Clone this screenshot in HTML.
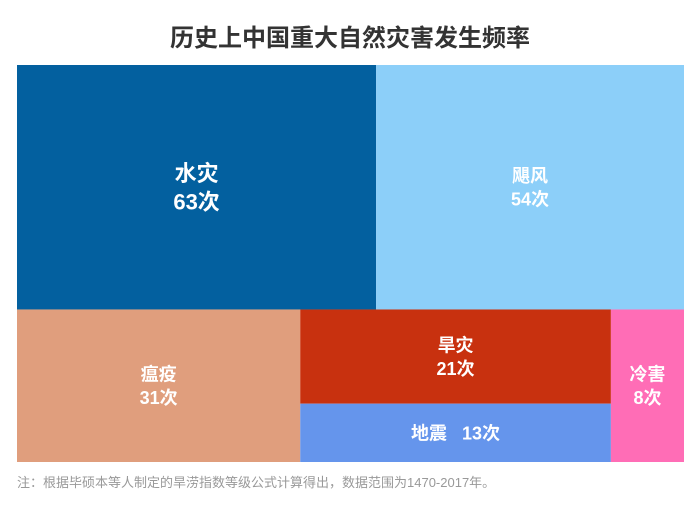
<!DOCTYPE html>
<html><head><meta charset="utf-8">
<style>
body{margin:0;width:700px;height:506px;background:#fff;font-family:"Liberation Sans","Noto Sans CJK SC",sans-serif;overflow:hidden}
#title{position:absolute;left:0;top:18px;width:700px;text-align:center;font-size:24px;font-weight:bold;color:#333}
#note{position:absolute;left:17px;top:472px;font-size:13px;color:#999}
svg{position:absolute;left:0;top:0}
svg text{white-space:pre}
</style></head><body>
<div id="title">历史上中国重大自然灾害发生频率</div>
<svg id="chart" width="700" height="506"></svg>
<div id="note">注：根据毕硕本等人制定的旱涝指数等级公式计算得出，数据范围为1470-2017年。</div>
<script>
const categories=["水灾","飓风","瘟疫","旱灾","地震","冷害"];
const counts=[63,54,31,21,13,8];
const colors=["#03609f","#8ccff9","#e09e7d","#c8310f","#6595ec","#ff6db6"];
const X0=17,Y0=65,W=667,H=397;
const svg=document.getElementById('chart');
const NS="http://www.w3.org/2000/svg";
const total=counts.reduce((a,b)=>a+b,0);
function rect(i,x,y,w,h,inline,fs){
  const r=document.createElementNS(NS,'rect');
  r.setAttribute('x',x);r.setAttribute('y',y);r.setAttribute('width',w);r.setAttribute('height',h);
  r.setAttribute('fill',colors[i]);
  
  
  svg.appendChild(r);
  const cx=x+w/2,cy=y+h/2;
  const lines=inline?[categories[i]+'   '+counts[i]+'次']:[categories[i],counts[i]+'次'];
  lines.forEach((t,k)=>{
    const tx=document.createElementNS(NS,'text');
    tx.setAttribute('x',cx);
    tx.setAttribute('y',cy+(k-(lines.length-1)/2)*fs*1.3+fs*0.36);
    tx.setAttribute('text-anchor','middle');tx.setAttribute('fill','#fff');
    tx.setAttribute('font-size',fs);tx.setAttribute('font-weight','bold');
    tx.textContent=t;
    
    
    svg.appendChild(tx);
  });
}
const topSum=counts[0]+counts[1];
const hTop=H*topSum/total;
const w0=W*counts[0]/topSum;
rect(0,X0,Y0,w0,hTop,false,22);
rect(1,X0+w0,Y0,W-w0,hTop,false,18);
const yB=Y0+hTop,hB=H-hTop;
const botSum=total-topSum;
const wP=W*counts[2]/botSum;
const wG=W*(counts[3]+counts[4])/botSum;
rect(2,X0,yB,wP,hB,false,18);
const hD=hB*counts[3]/(counts[3]+counts[4]);
rect(3,X0+wP,yB,wG,hD,false,18);
rect(4,X0+wP,yB+hD,wG,hB-hD,true,18);
rect(5,X0+wP+wG,yB,W-wP-wG,hB,false,18);
</script>
</body></html>
